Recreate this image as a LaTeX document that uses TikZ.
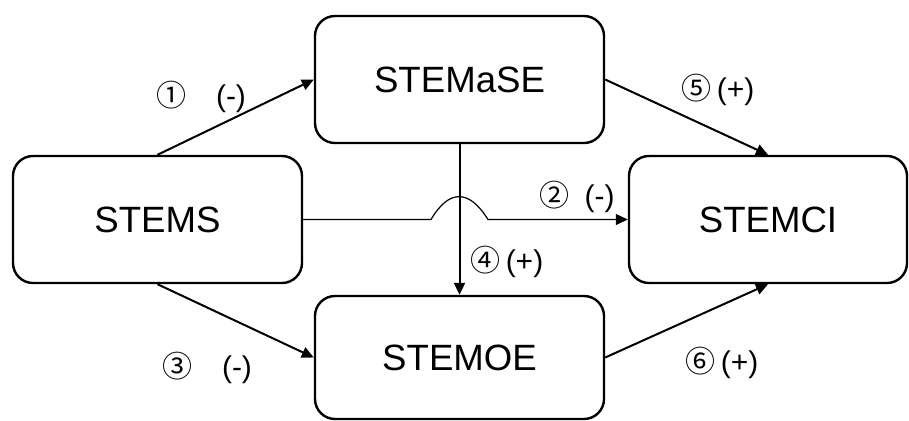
\documentclass[tikz,border=0pt]{standalone}
\usepackage{fontspec}
\setmainfont{Liberation Sans}
\newfontfamily\circfont{Noto Sans CJK SC}
\usetikzlibrary{arrows.meta}

\newcommand{\circnum}[1]{{\circfont\fontsize{15}{18}\selectfont #1}}

\tikzset{
  var/.style={shape=rectangle, draw=black, line width=1.2pt, rounded corners=10pt,
    minimum width=144.5pt, minimum height=63.5pt, inner sep=0pt,
    font=\fontsize{18.3}{21}\selectfont},
  path/.style={->, line width=1pt},
  sign/.style={font=\fontsize{15}{18}\selectfont, inner sep=0pt}
}

\begin{document}
\begin{tikzpicture}[x=0.5pt, y=-0.5pt, >={Triangle[length=6pt,width=5.5pt]}]
      \useasboundingbox (0,0) rectangle (909,420);
      \node (stemase) [var] at (459.5,79.5) {STEMaSE};
      \node (stems) [var] at (157.5,219.5) {STEMS};
      \node (stemci) [var, minimum width=139pt] at (768,219.5) {STEMCI};
      \node (stemoe) [var, minimum height=61.5pt] at (459.5,357.5) {STEMOE};
      \coordinate (hump1) at (431,219.5);
      \coordinate (hump2) at (488,219.5);
      \draw [path] (stems.north) -- (stemase.west);
      \draw [path] (stemase.east) -- (stemci.north);
      \draw [path] (stems.south) -- (stemoe.west);
      \draw [path] (stemoe.east) -- (stemci.south);
      %% direct effect hops over the vertical path
      \draw [->, line width=0.6pt] (stems.east) -- (hump1) .. controls (449,189) and (469,189) .. (hump2) -- (stemci.west);
      \draw [path] (stemase.south) -- (stemoe.north);
      \node (s1) [sign] at (201,97) {\circnum{①}\quad(-)};
      \node (s2) [sign] at (577,197) {\circnum{②}\enspace(-)};
      \node (s3) [sign] at (207,368) {\circnum{③}\quad(-)};
      \node (s4) [sign] at (507,262) {\circnum{④}\,(+)};
      \node (s5) [sign] at (718,90) {\circnum{⑤}\,(+)};
      \node (s6) [sign] at (722,363) {\circnum{⑥}\,(+)};
    \end{tikzpicture}
\end{document}
